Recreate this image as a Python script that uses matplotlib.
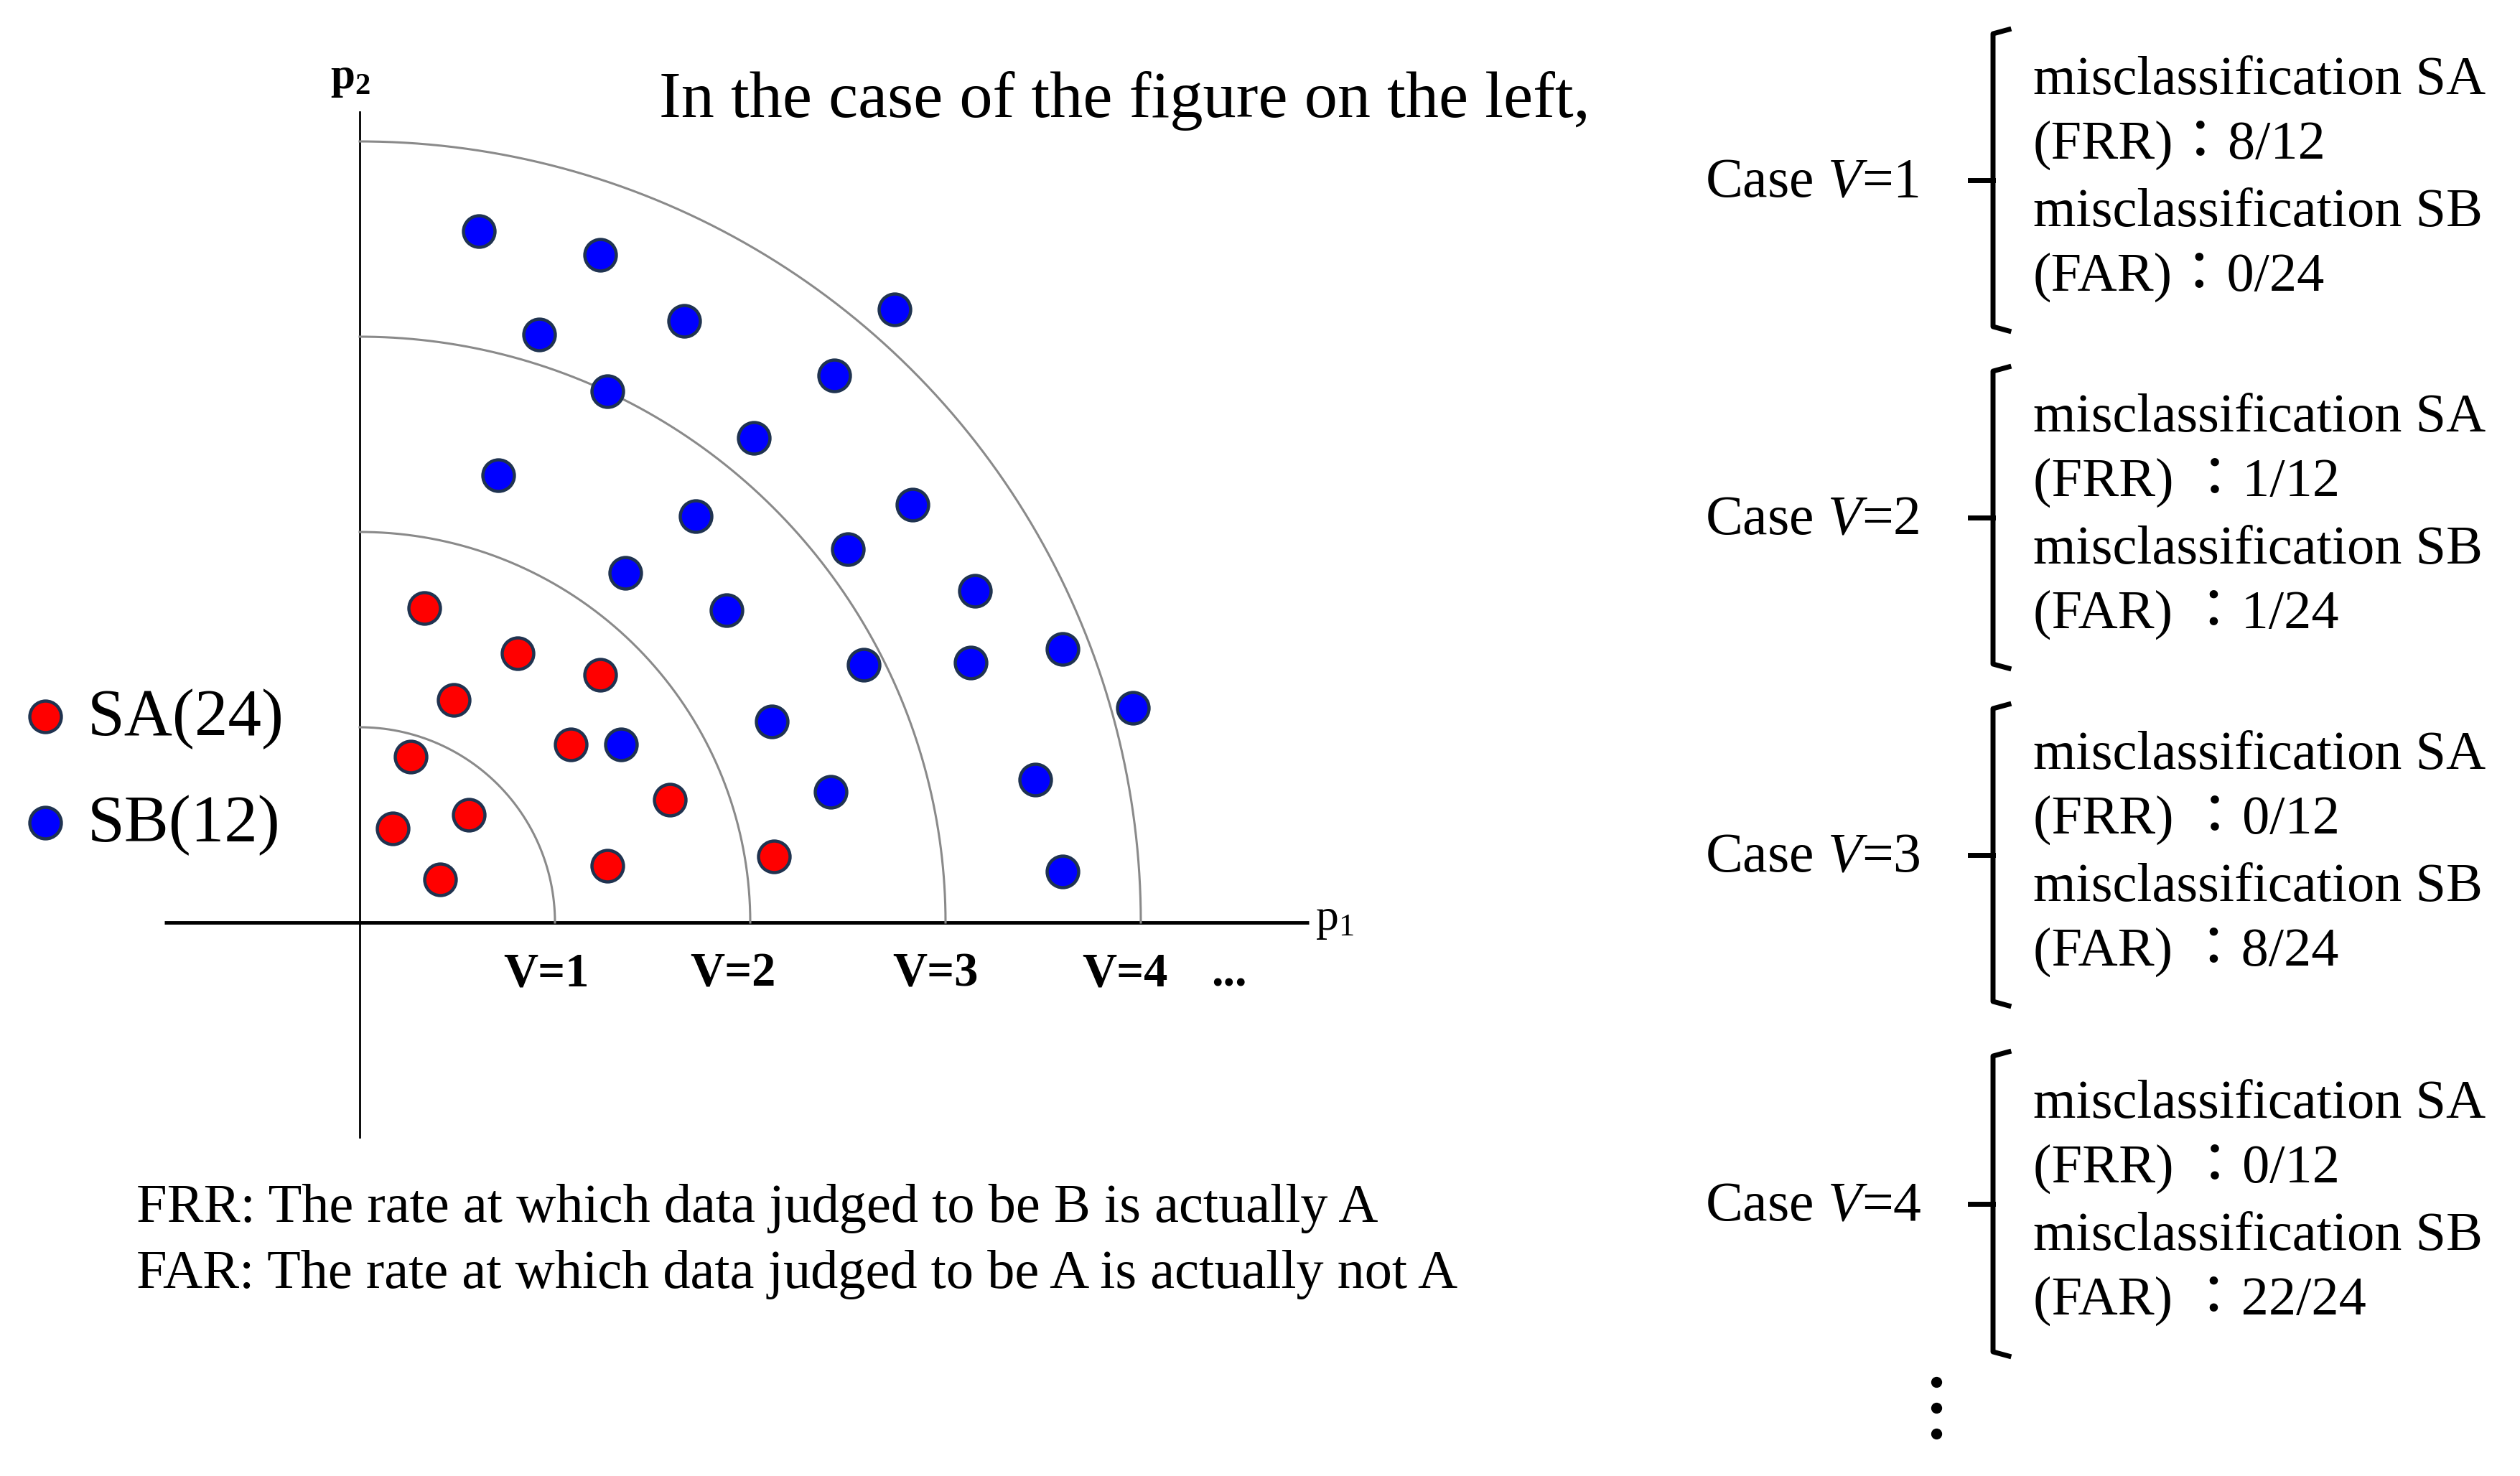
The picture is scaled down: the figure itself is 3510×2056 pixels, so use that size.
import numpy as np
import matplotlib.pyplot as plt

plt.rcParams['font.family'] = ['Liberation Serif', 'Noto Sans CJK JP']
plt.rcParams['mathtext.fontset'] = 'custom'
plt.rcParams['mathtext.rm'] = 'Liberation Serif'
plt.rcParams['mathtext.it'] = 'Liberation Serif:italic'
plt.rcParams['mathtext.bf'] = 'Liberation Serif:bold'

W, H = 3510, 2056

# points in (p1, p2) units, boundary V=k is a quarter circle of radius k
sa_p1 = [0.33, 0.81, 1.23, 0.48, 1.08, 0.26, 1.59, 0.56, 0.17, 1.27, 2.12, 0.41]
sa_p2 = [1.61, 1.38, 1.27, 1.14, 0.91, 0.85, 0.63, 0.55, 0.48, 0.29, 0.34, 0.22]

sb_p1 = [0.61, 1.23, 0.92, 1.66, 2.74, 1.27, 2.43, 2.02, 0.71, 1.72, 2.83, 2.50,
         1.36, 1.88, 3.15, 2.58, 3.13, 3.60, 3.96, 2.11, 1.34, 3.46, 2.41, 3.60]
sb_p2 = [3.54, 3.42, 3.01, 3.08, 3.14, 2.72, 2.80, 2.48, 2.29, 2.08, 2.14, 1.91,
         1.79, 1.60, 1.70, 1.32, 1.33, 1.40, 1.10, 1.03, 0.91, 0.73, 0.67, 0.26]

radii = [1, 2, 3, 4]
v_labels = ["V=1", "V=2", "V=3", "V=4"]
legend_labels = ["SA(24)", "SB(12)"]

case_titles = ["Case $V$=1", "Case $V$=2", "Case $V$=3", "Case $V$=4"]
case_lines = [
    ["misclassification SA", "(FRR)：8/12", "misclassification SB", "(FAR)：0/24"],
    ["misclassification SA", "(FRR) ：1/12", "misclassification SB", "(FAR) ：1/24"],
    ["misclassification SA", "(FRR) ：0/12", "misclassification SB", "(FAR) ：8/24"],
    ["misclassification SA", "(FRR) ：0/12", "misclassification SB", "(FAR) ：22/24"],
]

RED = "#FF0000"
BLUE = "#0000FF"
EDGE = "#1F3350"

fig = plt.figure(figsize=(W / 100, H / 100), dpi=100)

# diagram axes: origin at pixel (501, 1285), one unit = 272 px
X0, Y0, UNIT = 501, 1285, 272
ax = fig.add_axes([0, 0, 1, 1])
ax.set_xlim(-X0 / UNIT, (W - X0) / UNIT)
ax.set_ylim(-(H - Y0) / UNIT, Y0 / UNIT)
ax.axis("off")

ax.plot([-1.0, 4.86], [0, 0], color="black", lw=3.5, solid_capstyle="butt")
ax.plot([0, 0], [-1.10, 4.15], color="black", lw=2)

theta = np.linspace(0, np.pi / 2, 300)
for r in radii:
    ax.plot(r * np.cos(theta), r * np.sin(theta), color="#8a8a8a", lw=2.2)

ax.scatter(sa_p1, sa_p2, s=1000, c=RED, edgecolors=EDGE, linewidths=3.2, zorder=3)
ax.scatter(sb_p1, sb_p2, s=1000, c=BLUE, edgecolors=EDGE, linewidths=3.2, zorder=3)

# overlay in pixel coords for labels and annotations
tx = fig.add_axes([0, 0, 1, 1], facecolor="none")
tx.set_xlim(0, W)
tx.set_ylim(H, 0)
tx.axis("off")

tx.text(488, 110, r"$\mathbf{p_2}$", fontsize=44, ha="center", va="center")
tx.text(1832, 1282, r"p$_1$", fontsize=46, ha="left", va="center")

v_x = [761, 1021, 1303, 1567]
for x, lab in zip(v_x, v_labels):
    tx.text(x, 1357, lab, fontsize=48, fontweight="bold", ha="center", va="center")
tx.text(1712, 1357, "...", fontsize=48, fontweight="bold", ha="center", va="center")

tx.text(918, 140, "In the case of the figure on the left,", fontsize=66.5,
        ha="left", va="center")

# legend
for y, col, lab in zip([998, 1146], [RED, BLUE], legend_labels):
    tx.scatter([63], [y], s=1000, c=col, edgecolors=EDGE, linewidths=3.2)
    tx.text(122, y + 4, lab, fontsize=67, ha="left", va="center")

tx.text(190, 1684, "FRR: The rate at which data judged to be B is actually A",
        fontsize=55, ha="left", va="center")
tx.text(190, 1775, "FAR: The rate at which data judged to be A is actually not A",
        fontsize=55, ha="left", va="center")

# right-hand cases with brackets
centers = [251, 721, 1191, 1677]
half = [210, 210, 210, 212]
offsets = [-139, -49, 45, 135]
bx = 2776
for c, hh, title, lines in zip(centers, half, case_titles, case_lines):
    tx.text(2375, c + 4, title, fontsize=56, ha="left", va="center")
    tx.plot([bx + 22, bx, bx, bx + 22], [c - hh, c - hh + 6, c + hh - 6, c + hh],
            color="black", lw=5, solid_joinstyle="round")
    tx.plot([bx - 32, bx], [c, c], color="black", lw=5)
    for off, s in zip(offsets, lines):
        tx.text(2832, c + off, s, fontsize=55, ha="left", va="center")

tx.plot([2697, 2697, 2697], [1925, 1961, 1997], "o", color="black", ms=10)

fig.savefig("out.png", dpi=100)
